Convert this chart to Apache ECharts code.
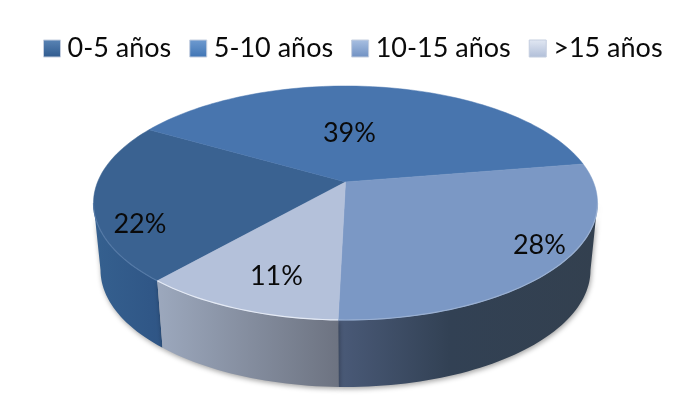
<!DOCTYPE html>
<html><head><meta charset="utf-8">
<style>html,body{margin:0;padding:0;background:#fff}#c{width:700px;height:412px}</style>
<script src="https://cdn.jsdelivr.net/npm/echarts@6/dist/echarts.min.js"></script>
</head><body><div id="c"></div>
<script>
const categories = ['0-5 años', '5-10 años', '10-15 años', '>15 años'];
const values = [22, 39, 28, 11];
const firstSliceAngle = 221;

const topColors = ['#3a6291', '#4875ae', '#7b98c5', '#b4c1da'];
const rimColors = ['#5479a6', '#4875ae', '#9ab0d2', '#e4eaf5'];
const legendColors = [['#5a84b5', '#2f5a8e'], ['#6f9bd0', '#3f74b4'], ['#a9c0e2', '#6f90c2'], ['#e2e8f3', '#b0bed8']];
const sideStops = [
  [[94, '#35608f'], [163, '#2f5585']],
  [[94, '#2f5585'], [163, '#2f5585']],
  [[338, '#4a5a78'], [450, '#324154'], [597, '#33404f']],
  [[158, '#9ca8bd'], [338, '#6d7381']]
];
const labelAngleShift = [-15, -8.3, -5.4, -2.8];
const labelRadius = [0.853, 0.468, 0.874, 0.767];

const disc = { cx: 345.5, cy: 203, rx: 252, ry: 117, tilt: -0.18 };
const base = { cx: 345.5, cy: 270, rx: 245, ry: 117 };

const total = values.reduce((a, b) => a + b, 0);
const rad = d => d * Math.PI / 180;

function project(theta, r, e) {
  const u = r * Math.sin(rad(theta)), v = -r * Math.cos(rad(theta)), a = disc.tilt;
  const d = 1 + a * v;
  return [e.cx + e.rx * Math.sqrt(1 - a * a) * u / d, e.cy + e.ry * (v + a) / d];
}
function arc(from, to, e) {
  const n = Math.max(2, Math.ceil(Math.abs(to - from) / 1.5)), pts = [];
  for (let i = 0; i <= n; i++) pts.push(project(from + (to - from) * i / n, 1, e));
  return pts;
}
const visibleFrom = 100.4, visibleTo = 259.6;

function sliceRange(idx, val) {
  let start = firstSliceAngle;
  for (let i = 0; i < idx; i++) start += values[i] / total * 360;
  return [start, start + val / total * 360];
}

function makeRender(idx) {
  return function (params, api) {
    const val = api.value(0);
    const [a0, a1] = sliceRange(idx, val);
    const kids = [];
    for (const shift of [0, 360, -360]) {
      const s = Math.max(a0 + shift, visibleFrom), t = Math.min(a1 + shift, visibleTo);
      if (t > s) {
        const topArc = arc(s, t, disc), botArc = arc(s, t, base).reverse();
        const stops = sideStops[idx], x0 = stops[0][0], x1 = stops[stops.length - 1][0];
        kids.push({
          type: 'polygon', z2: 1,
          shape: { points: topArc.concat(botArc) },
          style: {
            fill: new echarts.graphic.LinearGradient(x0, 0, x1, 0,
              stops.map(p => ({ offset: (p[0] - x0) / (x1 - x0), color: p[1] })), true),
            shadowBlur: 5, shadowOffsetY: 2, shadowOffsetX: 1, shadowColor: 'rgba(0,0,0,0.35)'
          }
        });
        kids.push({
          type: 'polyline', z2: 6, shape: { points: topArc },
          style: { fill: null, stroke: rimColors[idx], lineWidth: 1.2 }
        });
      }
    }
    const apex = project(0, 0, disc);
    kids.push({
      type: 'polygon', z2: 5,
      shape: { points: [apex].concat(arc(a0, a1, disc)) },
      style: { fill: topColors[idx], stroke: topColors[idx], lineWidth: 0.5 }
    });
    const pos = project((a0 + a1) / 2 + labelAngleShift[idx], labelRadius[idx], disc);
    kids.push({
      type: 'text', z2: 10, x: pos[0], y: pos[1],
      style: {
        text: Math.round(val / total * 100) + '%', fill: '#0a0a0a',
        font: '27px Lato', align: 'center', verticalAlign: 'middle'
      }
    });
    return { type: 'group', children: kids };
  };
}

const chart = echarts.init(document.getElementById('c'), null, { renderer: 'canvas' });
chart.setOption({
  animation: false,
  backgroundColor: '#fff',
  legend: {
    left: 38, top: 30, itemWidth: 17, itemHeight: 17, itemGap: 18,
    selectedMode: false,
    textStyle: { fontFamily: 'Lato', fontSize: 27, color: '#0a0a0a', padding: [0, 0, 0, 2] },
    data: categories.map((name, i) => ({
      name, icon: 'rect',
      itemStyle: {
        color: new echarts.graphic.LinearGradient(0, 0, 0, 1, [
          { offset: 0, color: legendColors[i][0] }, { offset: 1, color: legendColors[i][1] }
        ]),
        borderColor: '#c4cedf', borderWidth: 1
      }
    }))
  },
  series: categories.map((name, i) => ({
    type: 'custom', name, coordinateSystem: 'none',
    renderItem: makeRender(i), data: [[values[i]]], clip: false, silent: true,
    itemStyle: { color: topColors[i] }
  }))
});
</script></body></html>
